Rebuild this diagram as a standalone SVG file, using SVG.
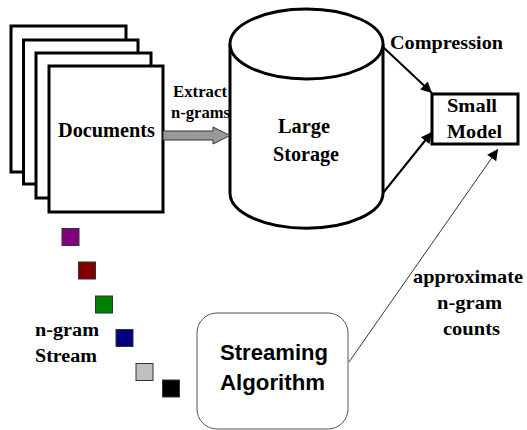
<svg xmlns="http://www.w3.org/2000/svg" width="527" height="430" viewBox="0 0 527 430">
<defs>
<style>
.page{fill:#fff;stroke:#000;stroke-width:3}
.serif{font-family:'Liberation Serif','Times New Roman',serif;font-weight:700;fill:#000}
.sans{font-family:'Liberation Sans',Arial,sans-serif;font-weight:700;fill:#000}
.sq{stroke:#333;stroke-width:1}
</style>
<marker id="ah2" viewBox="0 0 10 10" refX="10" refY="5" markerWidth="14" markerHeight="11" markerUnits="userSpaceOnUse" orient="auto"><path d="M0,0 L10,5 L0,10 Z" fill="#000"/></marker>
</defs>
<rect width="527" height="430" fill="#fff"/>
<g id="documents">
<rect class="page" x="11" y="26" width="115" height="146"/>
<rect class="page" x="23.5" y="40" width="114.5" height="144"/>
<rect class="page" x="36" y="53" width="115" height="145"/>
<rect class="page" x="49" y="66" width="114" height="146"/>
<text class="serif" x="58" y="137" font-size="20" textLength="97" lengthAdjust="spacingAndGlyphs">Documents</text>
</g>
<g id="storage">
<path d="M230,44 L230,193 A76,35 0 0 0 383,193 L383,44" fill="#fff" stroke="#000" stroke-width="3"/>
<ellipse cx="306.5" cy="44" rx="76.5" ry="35" fill="#fff" stroke="#000" stroke-width="3"/>
<text class="serif" x="278" y="133" font-size="20" textLength="52" lengthAdjust="spacingAndGlyphs">Large</text>
<text class="serif" x="273" y="161" font-size="20" textLength="66" lengthAdjust="spacingAndGlyphs">Storage</text>
</g>
<g id="model">
<rect x="432" y="94" width="86" height="50" fill="#fff" stroke="#000" stroke-width="3"/>
<text class="serif" x="447" y="112" font-size="19" textLength="50" lengthAdjust="spacingAndGlyphs">Small</text>
<text class="serif" x="447" y="138" font-size="19" textLength="55" lengthAdjust="spacingAndGlyphs">Model</text>
</g>
<g id="streaming">
<rect x="197" y="313" width="151" height="116" rx="20" ry="20" fill="#fff" stroke="#555" stroke-width="1"/>
<text class="sans" x="220" y="360" font-size="22" textLength="108" lengthAdjust="spacingAndGlyphs">Streaming</text>
<text class="sans" x="220" y="390" font-size="22" textLength="105" lengthAdjust="spacingAndGlyphs">Algorithm</text>
</g>
<g id="stream">
<rect class="sq" x="62" y="228.5" width="17" height="17" fill="#800080"/>
<rect class="sq" x="78.5" y="262" width="17" height="17" fill="#800000"/>
<rect class="sq" x="95.5" y="296" width="17" height="17" fill="#008000"/>
<rect class="sq" x="116" y="329.5" width="17" height="17" fill="#000080"/>
<rect class="sq" x="136" y="363.5" width="17" height="17" fill="#c0c0c0"/>
<rect class="sq" x="162.5" y="380" width="17" height="17" fill="#000"/>
<text class="serif" x="35" y="336" font-size="18" textLength="64" lengthAdjust="spacingAndGlyphs">n-gram</text>
<text class="serif" x="35" y="362" font-size="18" textLength="62" lengthAdjust="spacingAndGlyphs">Stream</text>
</g>
<g id="connectors">
<path d="M163,131 L213,131 L213,127 L230,135.5 L213,144 L213,140 L163,140 Z" fill="#999" stroke="#333" stroke-width="1"/>
<text class="serif" x="173" y="97" font-size="16" textLength="54" lengthAdjust="spacingAndGlyphs">Extract</text>
<text class="serif" x="171" y="118" font-size="16" textLength="59" lengthAdjust="spacingAndGlyphs">n-grams</text>
<line x1="383" y1="47" x2="432" y2="93" stroke="#000" stroke-width="2" marker-end="url(#ah2)"/>
<line x1="383" y1="193" x2="432" y2="132" stroke="#000" stroke-width="2" marker-end="url(#ah2)"/>
<line x1="349" y1="362" x2="498" y2="149" stroke="#333" stroke-width="1" marker-end="url(#ah2)"/>
<text class="serif" x="390" y="49" font-size="19" textLength="113" lengthAdjust="spacingAndGlyphs">Compression</text>
<text class="serif" x="413" y="283" font-size="19" textLength="110" lengthAdjust="spacingAndGlyphs">approximate</text>
<text class="serif" x="437" y="309" font-size="19" textLength="65" lengthAdjust="spacingAndGlyphs">n-gram</text>
<text class="serif" x="443" y="335" font-size="19" textLength="57" lengthAdjust="spacingAndGlyphs">counts</text>
</g>
</svg>
